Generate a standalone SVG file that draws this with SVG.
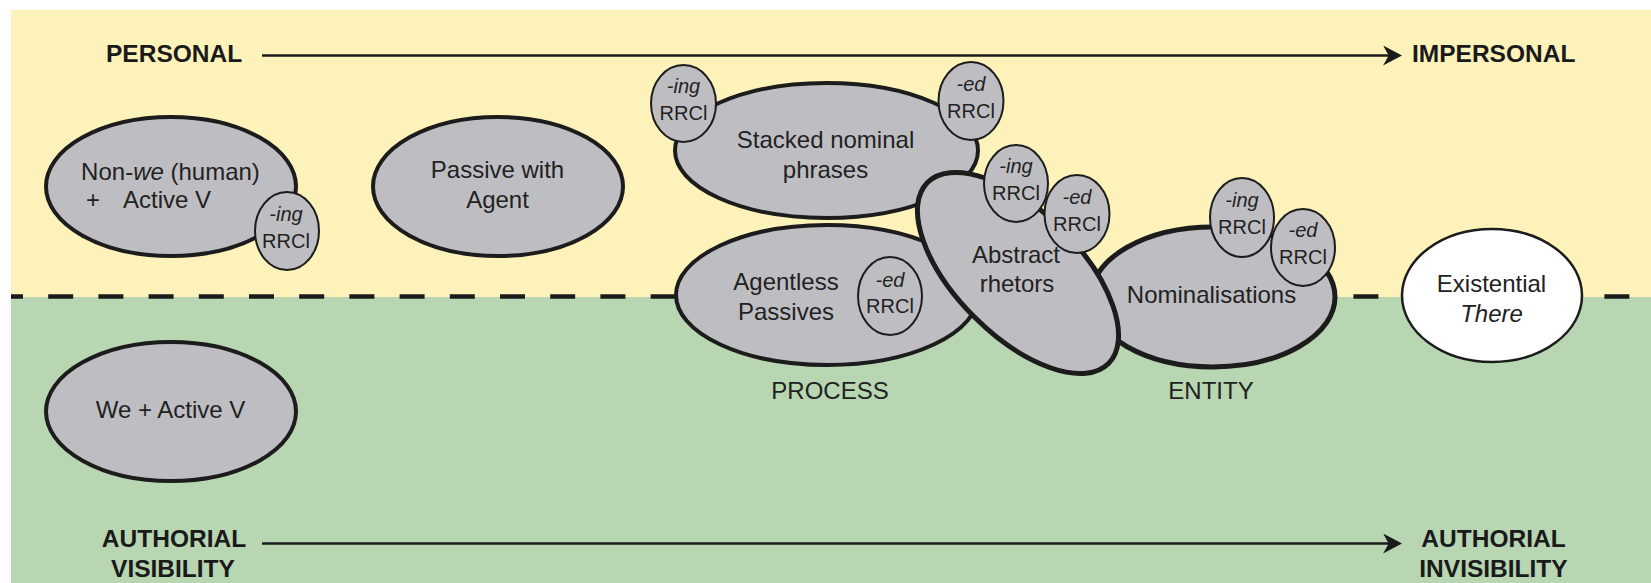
<svg xmlns="http://www.w3.org/2000/svg" width="1651" height="583" viewBox="0 0 1651 583">
  <style>
    .big { fill: #bebec2; stroke: #1c1c1c; stroke-width: 4; }
    .heavy { stroke-width: 5; }
    .small { fill: #bebec2; stroke: #1c1c1c; stroke-width: 2; }
    .white { fill: #ffffff; stroke: #1c1c1c; stroke-width: 2.5; }
    .t { font-family: "Liberation Sans", Arial, sans-serif; font-size: 24px; fill: #222222; text-anchor: middle; }
    .start { text-anchor: start; }
    .s { font-family: "Liberation Sans", Arial, sans-serif; font-size: 20px; fill: #222222; text-anchor: middle; }
    .axis { font-family: "Liberation Sans", Arial, sans-serif; font-size: 24.5px; font-weight: bold; fill: #1a1a1a; }
    .mid { text-anchor: middle; }
    .i { font-style: italic; }
    .arrow { stroke: #1a1a1a; stroke-width: 2.5; fill: none; }
    .divider { stroke: #1a1a1a; stroke-width: 4.5; stroke-dasharray: 25 25.2; stroke-dashoffset: 13; fill: none; }
  </style>
  <defs>
    <marker id="head" markerUnits="userSpaceOnUse" markerWidth="20" markerHeight="20" viewBox="0 0 18 18" refX="8" refY="9" orient="auto">
      <path d="M0,0 L17,9 L0,18 L5,9 Z" fill="#1a1a1a"/>
    </marker>
  </defs>

  <!-- background bands -->
  <rect x="0" y="0" width="1651" height="583" fill="#ffffff"/>
  <rect x="11" y="10" width="1640" height="287" fill="#fdf2b9"/>
  <rect x="11" y="297" width="1640" height="286" fill="#b8d6b2"/>

  <!-- axes and divider -->
  <g id="connectors">
    <line class="divider" x1="11" y1="296.5" x2="1651" y2="296.5"/>
    <line class="arrow" x1="262" y1="55.5" x2="1392" y2="55.5" marker-end="url(#head)"/>
    <line class="arrow" x1="262" y1="543.5" x2="1392" y2="543.5" marker-end="url(#head)"/>
  </g>

  <g id="label-personal">
    <text class="axis" x="106" y="62">PERSONAL</text>
  </g>
  <g id="label-impersonal">
    <text class="axis" x="1412" y="62">IMPERSONAL</text>
  </g>
  <g id="label-visibility">
    <text class="axis mid" x="174" y="547">AUTHORIAL</text>
    <text class="axis mid" x="173" y="577">VISIBILITY</text>
  </g>
  <g id="label-invisibility">
    <text class="axis mid" x="1493.5" y="547">AUTHORIAL</text>
    <text class="axis mid" x="1493.5" y="577">INVISIBILITY</text>
  </g>

  <g id="non-we-active">
    <ellipse class="big" cx="171" cy="186.5" rx="125" ry="69.5"/>
    <text class="t" x="170.5" y="180">Non-<tspan class="i">we</tspan> (human)</text>
    <text class="t start" x="86" y="208">+</text>
    <text class="t start" x="123" y="208">Active V</text>
  </g>
  <g id="non-we-ing">
    <ellipse class="small" cx="287" cy="231" rx="32" ry="39"/>
    <text class="s i" x="286" y="221">-ing</text>
    <text class="s" x="286" y="248">RRCl</text>
  </g>

  <g id="passive-agent">
    <ellipse class="big" cx="498" cy="186.5" rx="125" ry="69.5"/>
    <text class="t" x="497.5" y="178">Passive with</text>
    <text class="t" x="497.5" y="208">Agent</text>
  </g>

  <g id="we-active">
    <ellipse class="big" cx="171" cy="411.5" rx="125" ry="69.5"/>
    <text class="t" x="170.5" y="418">We + Active V</text>
  </g>

  <g id="stacked">
    <ellipse class="big" cx="826.5" cy="150.5" rx="151.5" ry="67.5"/>
    <text class="t" x="825.5" y="148">Stacked nominal</text>
    <text class="t" x="825.5" y="178">phrases</text>
  </g>
  <g id="stacked-ing">
    <ellipse class="small" cx="683.5" cy="103.5" rx="32.5" ry="38.5"/>
    <text class="s i" x="683.5" y="93">-ing</text>
    <text class="s" x="683.5" y="120">RRCl</text>
  </g>
  <g id="stacked-ed">
    <ellipse class="small" cx="971" cy="101" rx="32.5" ry="39"/>
    <text class="s i" x="971" y="91">-ed</text>
    <text class="s" x="971" y="118">RRCl</text>
  </g>

  <g id="agentless">
    <ellipse class="big" cx="827" cy="295" rx="151" ry="70"/>
    <text class="t" x="786" y="290">Agentless</text>
    <text class="t" x="786" y="320">Passives</text>
  </g>
  <g id="agentless-ed">
    <ellipse class="small" cx="890" cy="296" rx="32" ry="39"/>
    <text class="s i" x="890" y="287">-ed</text>
    <text class="s" x="890" y="313">RRCl</text>
  </g>

  <g id="nominalisations">
    <ellipse class="big heavy" cx="1213" cy="297" rx="122" ry="70"/>
    <text class="t" x="1211.5" y="303">Nominalisations</text>
  </g>

  <g id="abstract">
    <ellipse class="big heavy" cx="1018" cy="273" rx="128" ry="62" transform="rotate(45 1018 273)"/>
    <text class="t" x="1016" y="263">Abstract</text>
    <text class="t" x="1017" y="292">rhetors</text>
  </g>
  <g id="abstract-ing">
    <ellipse class="small" cx="1016" cy="183.5" rx="32" ry="38.5"/>
    <text class="s i" x="1016" y="173">-ing</text>
    <text class="s" x="1016" y="200">RRCl</text>
  </g>
  <g id="abstract-ed">
    <ellipse class="small" cx="1077" cy="214" rx="32.5" ry="39"/>
    <text class="s i" x="1077" y="204">-ed</text>
    <text class="s" x="1077" y="231">RRCl</text>
  </g>

  <g id="nominalisations-ing">
    <ellipse class="small" cx="1242" cy="217.5" rx="32" ry="39.5"/>
    <text class="s i" x="1242" y="207">-ing</text>
    <text class="s" x="1242" y="234">RRCl</text>
  </g>
  <g id="nominalisations-ed">
    <ellipse class="small" cx="1303" cy="247.5" rx="32" ry="38.5"/>
    <text class="s i" x="1303" y="237">-ed</text>
    <text class="s" x="1303" y="264">RRCl</text>
  </g>

  <g id="existential">
    <ellipse class="white" cx="1492" cy="295.5" rx="90" ry="66.5"/>
    <text class="t" x="1491.5" y="292">Existential</text>
    <text class="t i" x="1491.5" y="322">There</text>
  </g>

  <g id="label-process">
    <text class="t" x="830" y="399">PROCESS</text>
  </g>
  <g id="label-entity">
    <text class="t" x="1211" y="399">ENTITY</text>
  </g>
</svg>
